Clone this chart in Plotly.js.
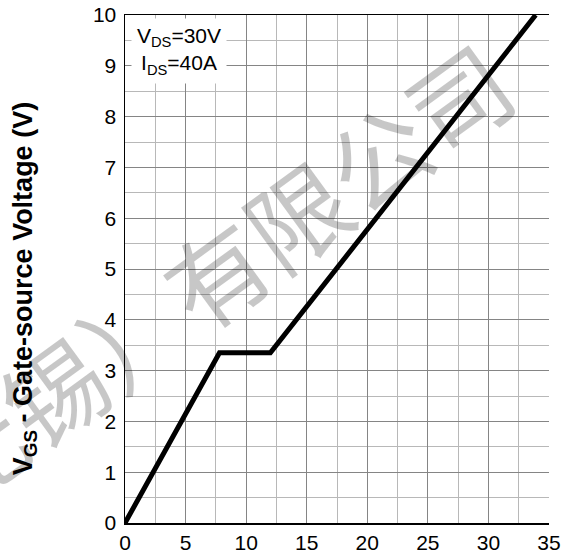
<!DOCTYPE html>
<html>
<head>
<meta charset="utf-8">
<script src="https://cdn.plot.ly/plotly-3.0.1.min.js"></script>
<style>html,body{margin:0;padding:0;background:#fff;}#chart{width:567px;height:558px;}</style>
</head>
<body>
<div id="chart"></div>
<script>
// Gate charge (nC) vs gate-source voltage (V)
var gateCharge = [0, 7.8, 12.0, 33.9];
var gateVoltage = [0, 3.35, 3.35, 10];
var xTickVals = [0, 5, 10, 15, 20, 25, 30, 35];
var yTickVals = [0, 1, 2, 3, 4, 5, 6, 7, 8, 9, 10];
var conditionText = "V<sub>DS</sub>=30V<br>I<sub>DS</sub>=40A";
var yTitleText = "V<sub>GS</sub> - Gate-source Voltage (V)";
var watermarkText = "微电子（无锡）有限公司";

var FONT = "Liberation Sans, Arial, sans-serif";

var trace = {
  x: gateCharge, y: gateVoltage, type: "scatter", mode: "lines",
  line: {color: "#000", width: 5}, hoverinfo: "skip", cliponaxis: true
};

var layout = {
  width: 567, height: 558,
  margin: {l: 125, r: 18, t: 15, b: 35},
  paper_bgcolor: "#fff", plot_bgcolor: "#fff",
  showlegend: false,
  font: {family: FONT, size: 21, color: "#000"},
  xaxis: {
    range: [0, 35], tickvals: xTickVals, ticktext: xTickVals.map(String),
    showgrid: true, gridcolor: "#858585", gridwidth: 1,
    minor: {dtick: 2.5, tick0: 0, showgrid: true, gridcolor: "#b8b8b8", gridwidth: 1},
    showline: true, linecolor: "#000", linewidth: 1.5, mirror: true,
    zeroline: false, ticks: "", ticklabelstandoff: 0,
    tickfont: {family: FONT, size: 21, color: "#000"}, fixedrange: true
  },
  yaxis: {
    range: [0, 10], tickvals: yTickVals, ticktext: yTickVals.map(String),
    showgrid: true, gridcolor: "#858585", gridwidth: 1,
    minor: {dtick: 0.5, tick0: 0, showgrid: true, gridcolor: "#b8b8b8", gridwidth: 1},
    showline: true, linecolor: "#000", linewidth: 1.5, mirror: false,
    zeroline: false, ticks: "", ticklabelstandoff: 3,
    tickfont: {family: FONT, size: 21, color: "#000"}, fixedrange: true
  },
  annotations: [
    {
      text: watermarkText, xref: "paper", yref: "paper",
      x: -0.170, y: 0.262, xanchor: "center", yanchor: "middle",
      textangle: -36, showarrow: false,
      font: {family: "Noto Sans CJK SC", size: 100, color: "rgba(0,0,0,0.22)"}
    },
    {
      text: conditionText, xref: "paper", yref: "paper",
      x: 0.127, y: 0.929, xanchor: "center", yanchor: "middle",
      showarrow: false, bgcolor: "#fff", borderpad: 5, align: "center",
      font: {family: FONT, size: 21, color: "#000"}
    },
    {
      text: yTitleText, xref: "paper", yref: "paper",
      x: -0.236, y: 0.462, xanchor: "center", yanchor: "middle",
      textangle: -90, showarrow: false,
      font: {family: FONT, size: 27, color: "#000", weight: "bold"}
    }
  ]
};

Plotly.newPlot("chart", [trace], layout, {displayModeBar: false, staticPlot: true});
</script>
</body>
</html>
